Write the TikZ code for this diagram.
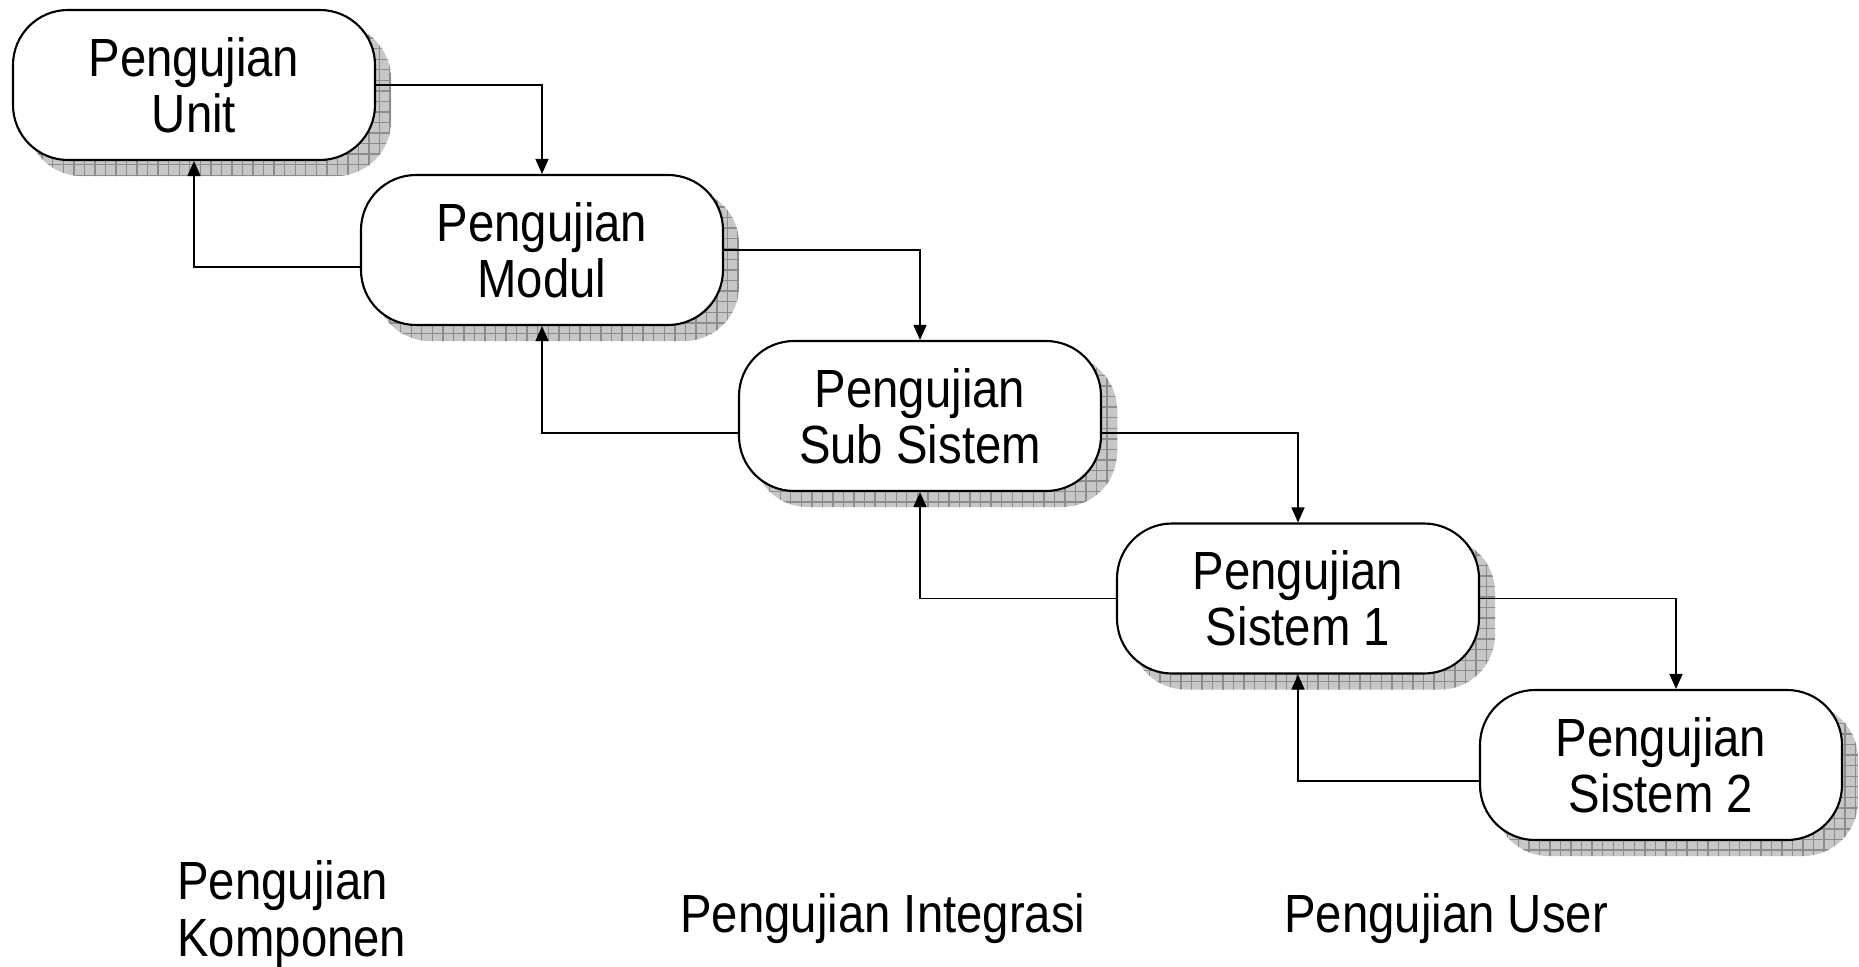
\documentclass[tikz,border=0pt]{standalone}
\usepackage{fontspec}
\setmainfont{Liberation Sans}[FakeStretch=0.88]
\usepackage{tikz}
\usetikzlibrary{arrows.meta,patterns,backgrounds}

\tikzset{
	stage/.style={draw, line width=0.6pt, fill=white, rounded corners=0.55cm,
		minimum width=3.62cm, minimum height=1.5cm, align=center,
		font=\fontsize{15.3}{16}\selectfont},
	stageshadow/.style={fill=black!22, rounded corners=0.55cm,
		postaction={pattern=grid, pattern color=black!45}},
	link/.style={line width=0.45pt, -{Triangle[length=0.15cm, width=0.13cm]}},
	phase/.style={font=\fontsize{15.3}{16}\selectfont, align=left}
}

\begin{document}
\begin{tikzpicture}
		%%%%% START %%%%%
		\useasboundingbox (0, 0) rectangle (18.59, 9.66);
		
		\node[stage] (unit) at (1.94, 8.81) {Pengujian\\Unit};
		\node[stage] (modul) at (5.42, 7.16) {Pengujian\\Modul};
		\node[stage] (subsis) at (9.20, 5.50) {Pengujian\\Sub Sistem};
		\node[stage] (sis1) at (12.98, 3.675) {Pengujian\\Sistem 1};
		\node[stage] (sis2) at (16.61, 2.01) {Pengujian\\Sistem 2};
		
		\begin{scope}[on background layer]
			\foreach \n in {unit, modul, subsis, sis1, sis2}
				\path[stageshadow] ([shift={(0.15,-0.15)}]\n.south west) rectangle ([shift={(0.15,-0.15)}]\n.north east);
		\end{scope}
		
		% down
		\draw[link] (unit.east) -| (modul.north);
		\draw[link] (modul.east) -| (subsis.north);
		\draw[link] ([yshift=-0.17cm]subsis.east) -| (sis1.north);
		\draw[link] (sis1.east) -| ([xshift=0.15cm]sis2.north);
		
		% up
		\draw[link] ([yshift=-0.17cm]modul.west) -| (unit.south);
		\draw[link] ([yshift=-0.17cm]subsis.west) -| (modul.south);
		\draw[link] (sis1.west) -| (subsis.south);
		\draw[link] ([yshift=-0.16cm]sis2.west) -| (sis1.south);
		
		\node[phase, anchor=west] (komponen) at (1.65, 0.52) {Pengujian\\Komponen};
		\node[phase, anchor=base west] (integrasi) at (6.68, 0.34) {Pengujian Integrasi};
		\node[phase, anchor=base west] (user) at (12.72, 0.34) {Pengujian User};
		
		%%%%% END %%%%%
\end{tikzpicture}
\end{document}
